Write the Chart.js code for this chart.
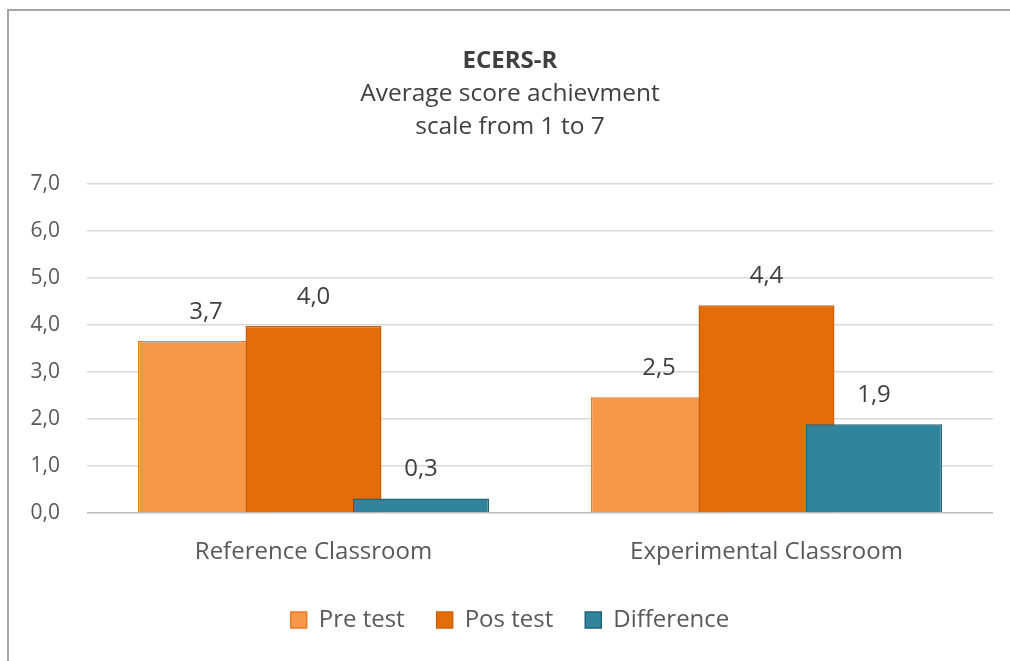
<!DOCTYPE html>
<html>
<head>
<meta charset="utf-8">
<script src="https://cdn.jsdelivr.net/npm/chart.js@4"></script>
<style>
  html, body { margin: 0; padding: 0; background: #fff; overflow: hidden; }
  #wrap { position: relative; width: 1010px; height: 661px; }
  #frame { position: absolute; left: 7px; top: 9px; width: 1100px; height: 800px;
           border: 2px solid #a6a6a6; box-sizing: border-box; }
  canvas { position: absolute; left: 0; top: 0; }
</style>
</head>
<body>
<div id="wrap">
  <div id="frame"></div>
  <canvas id="myChart" width="1010" height="661"></canvas>
</div>
<script>
// values
const categories = ['Reference Classroom', 'Experimental Classroom'];
const preTest = [3.66, 2.46];
const posTest = [3.98, 4.42];
const difference = [0.31, 1.89];
const yTicks = [0, 1, 2, 3, 4, 5, 6, 7];

const FONT = '"Open Sans"';
const fmt = v => v.toFixed(1).replace('.', ',');

// Excel draws the overlapping bars left to right, so the right one sits on top
const drawOrder = {
    id: 'drawOrder',
    beforeDatasetsDraw(chart) {
        const metas = chart.getSortedVisibleDatasetMetas();
        metas.forEach(m => m.controller.draw());
        const ctx = chart.ctx;
        ctx.save();
        ctx.font = '24px ' + FONT;
        ctx.fillStyle = '#404040';
        ctx.textAlign = 'center';
        ctx.textBaseline = 'middle';
        metas.forEach(m => {
            m.data.forEach((bar, i) => {
                const v = chart.data.datasets[m.index].data[i];
                ctx.fillText(fmt(v), bar.x, bar.y - 29);
            });
        });
        ctx.restore();
        return false;
    }
};

const ctx = document.getElementById('myChart').getContext('2d');

var myChart = new Chart(ctx, {
    type: 'bar',
    data: {
        labels: categories,
        datasets: [{
            label: 'Pre test',
            data: preTest,
            backgroundColor: '#F6974A',
            borderColor: '#EB7B24',
            borderWidth: 1.5
        }, {
            label: 'Pos test',
            data: posTest,
            backgroundColor: '#E36C0B',
            borderColor: '#C9600E',
            borderWidth: 1.5
        }, {
            label: 'Difference',
            data: difference,
            backgroundColor: '#31849B',
            borderColor: '#23667A',
            borderWidth: 1.5
        }]
    },
    options: {
        responsive: false,
        animation: false,
        categoryPercentage: 0.712,
        barPercentage: 1.265,
        layout: {
            padding: { left: 27, right: 17, top: 0, bottom: 19 }
        },
        plugins: {
            title: {
                display: true,
                text: 'ECERS-R',
                color: '#404040',
                font: { family: FONT, size: 24, weight: 'bold' },
                padding: { top: 47, bottom: 2 }
            },
            subtitle: {
                display: true,
                text: ['Average score achievment', 'scale from 1 to 7'],
                color: '#404040',
                font: { family: FONT, size: 24.5, lineHeight: 1.35 },
                padding: { top: 0, bottom: 40 }
            },
            legend: {
                display: true,
                position: 'bottom',
                labels: {
                    color: '#595959',
                    font: { family: FONT, size: 24 },
                    boxWidth: 16,
                    boxHeight: 16,
                    padding: 32
                }
            },
            tooltip: { enabled: false }
        },
        scales: {
            x: {
                afterFit(scale) { scale.height = 63; },
                grid: { display: false, drawTicks: false },
                border: { display: false },
                ticks: {
                    color: '#595959',
                    font: { family: FONT, size: 24 },
                    padding: 25
                }
            },
            y: {
                min: 0,
                max: 7,
                afterFit(scale) { scale.width = 60; },
                afterBuildTicks(scale) { scale.ticks = yTicks.map(v => ({ value: v })); },
                grid: {
                    drawTicks: false,
                    lineWidth: 1.5,
                    color: c => (c.tick && c.tick.value === 0) ? '#bfbfbf' : '#d9d9d9'
                },
                border: { display: false },
                ticks: {
                    color: '#595959',
                    font: { family: FONT, size: 21 },
                    padding: 27,
                    callback: v => fmt(v)
                }
            }
        }
    },
    plugins: [drawOrder]
});
</script>
</body>
</html>
